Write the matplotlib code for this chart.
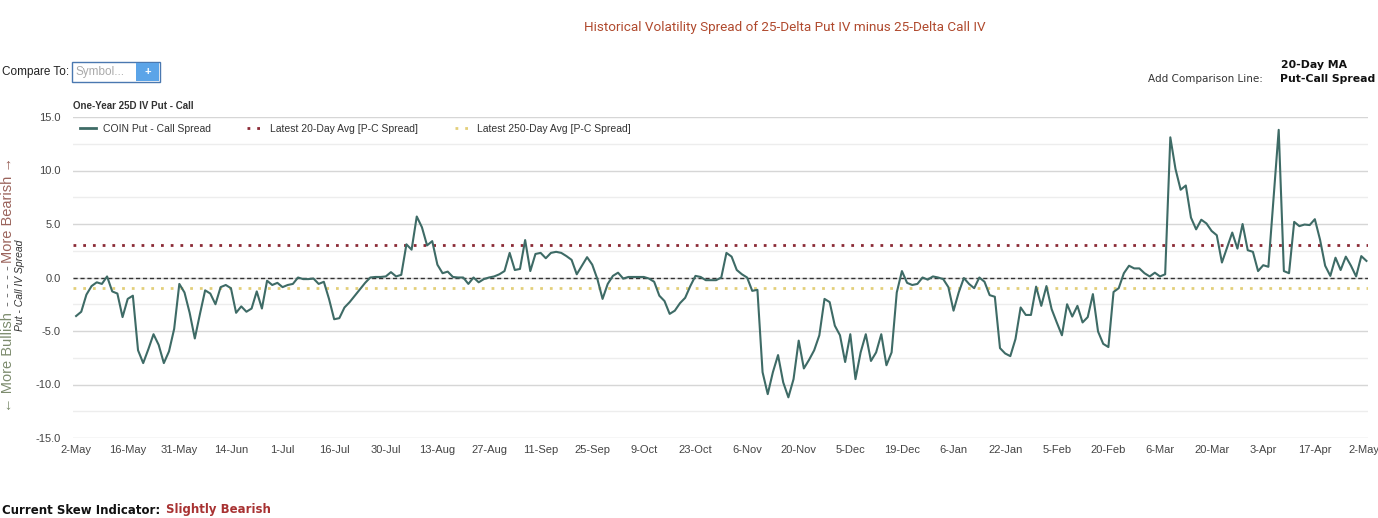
import numpy as np
import matplotlib.pyplot as plt
from matplotlib.patches import Rectangle
from matplotlib.lines import Line2D
from matplotlib.transforms import ScaledTranslation

# put - call spread, one value per trading day (2-May .. 2-May)
spread_may_aug = [-3.6, -3.2, -1.6, -0.8, -0.45, -0.6, 0.1, -1.3, -1.5, -3.7,
                  -2.0, -1.7, -6.8, -8.0, -6.7, -5.3, -6.3, -8.0, -6.9, -4.8,
                  -0.6, -1.4, -3.3, -5.7, -3.4, -1.2, -1.5, -2.5, -0.9, -0.7,
                  -1.0, -3.3, -2.7, -3.2, -2.9, -1.3, -2.9, -0.3, -0.7, -0.5,
                  -0.9, -0.7, -0.6, 0.0, -0.15, -0.15, -0.1, -0.6, -0.4, -2.0,
                  -3.9, -3.8, -2.8, -2.3, -1.7, -1.1, -0.5, 0.0, 0.05, 0.05,
                  0.1, 0.5, 0.1, 0.25, 3.1, 2.6, 5.7, 4.7, 3.0, 3.4,
                  1.2, 0.4, 0.55, 0.05, 0.0]
spread_aug_sep = [0.0, -0.6, 0.0, -0.45, -0.15, 0.0, 0.1, 0.3, 0.6, 2.3,
                  0.7, 0.8, 3.5, 0.6, 2.2, 2.3, 1.8, 2.3, 2.4, 2.3,
                  2.0, 1.65, 0.3, 1.1, 1.9, 1.2, -0.15]
spread_oct_dec = [-2.0, -0.6, 0.15, 0.45, -0.1, 0.05, 0.05, 0.05, 0.05, -0.1,
                  -0.4, -1.7, -2.2, -3.4, -3.1, -2.4, -1.9, -0.8, 0.15, 0.05,
                  -0.25, -0.25, -0.25, 0.0, 2.3, 1.95, 0.7, 0.3, 0.0, -1.25,
                  -1.15, -8.85, -10.9, -8.85, -7.25, -9.8, -11.2, -9.5, -5.9, -8.5,
                  -7.7, -6.8, -5.4, -2.0, -2.3, -4.5, -5.4, -7.9, -5.3, -9.5,
                  -7.0, -5.3, -7.8, -7.0, -5.3, -8.2, -7.0]
spread_dec_feb = [-1.4, 0.6, -0.5, -0.7, -0.6, 0.0, -0.2, 0.1, 0.0, -0.15,
                  -0.9, -3.1, -1.4, -0.05, -0.6, -1.0, 0.0, -0.4, -1.65, -1.8,
                  -6.6, -7.1, -7.35, -5.75, -2.8, -3.5, -3.5, -0.85, -2.65, -0.8,
                  -2.95, -4.2, -5.4, -2.5, -3.65, -2.65, -4.2, -3.7, -1.55, -5.05,
                  -6.2, -6.5, -1.35, -1.0]
spread_feb_may = [0.4, 1.1, 0.85, 0.85, 0.4, 0.1, 0.45, 0.1, 0.3, 13.1,
                  10.15, 8.2, 8.6, 5.6, 4.5, 5.4, 5.05, 4.35, 3.95, 1.4,
                  2.8, 4.2, 2.7, 5.0, 2.55, 2.4, 0.6, 1.15, 1.0, 7.4,
                  13.8, 0.6, 0.4, 5.2, 4.8, 4.95, 4.9, 5.45, 3.55, 1.1,
                  0.15, 1.85, 0.7, 1.95, 1.1, 0.1, 2.0, 1.55]

avg20 = 3.05
avg250 = -0.95

tick_labels = ['2-May', '16-May', '31-May', '14-Jun', '1-Jul', '16-Jul', '30-Jul',
               '13-Aug', '27-Aug', '11-Sep', '25-Sep', '9-Oct', '23-Oct', '6-Nov',
               '20-Nov', '5-Dec', '19-Dec', '6-Jan', '22-Jan', '5-Feb', '20-Feb',
               '6-Mar', '20-Mar', '3-Apr', '17-Apr', '2-May']

spread = np.array(spread_may_aug + spread_aug_sep + spread_oct_dec
                  + spread_dec_feb + spread_feb_may)
days = np.arange(len(spread))

W, H = 1378, 518
def px(x, y):
    return x / W, 1 - y / H

plt.rcParams['font.family'] = ['Liberation Sans', 'DejaVu Sans']

fig = plt.figure(figsize=(W / 100, H / 100), dpi=100)
ax = fig.add_axes([73 / W, 1 - 438 / H, (1368 - 73) / W, (438 - 117) / H])

# grid: every 2.5, darker on the 5s
for g in np.arange(-15, 15.1, 2.5):
    c = '#d6d6d6' if g % 5 == 0 else '#ededed'
    ax.axhline(g, color=c, lw=1, zorder=0)

ax.axhline(0, color='#333333', lw=1, ls=(0, (3, 2)), zorder=1)
ax.axhline(avg20, color='#8b2a36', lw=2, ls=(0, (1, 2.5)), zorder=2)
ax.axhline(avg250, color='#e3cf7a', lw=2, ls=(0, (1, 2.5)), zorder=2)
ax.plot(days, spread, color='#3e6b66', lw=1.5, zorder=3)

ax.set_xlim(-0.6, 250.3)
ax.set_ylim(-15, 15)
ax.set_yticks(np.arange(-15, 16, 5))
ax.set_yticklabels(['%.1f' % v for v in np.arange(-15, 16, 5)])
ax.set_xticks(np.arange(0, 251, 10))
ax.set_xticklabels(tick_labels)
ax.tick_params(length=0, labelsize=8, colors='#444444')
ax.tick_params(axis='y', pad=9)
ax.tick_params(axis='x', pad=5)
for s in ax.spines.values():
    s.set_visible(False)
# last label sits against the right edge
last = ax.get_xticklabels()[-1]
last.set_transform(last.get_transform() + ScaledTranslation(-0.03, 0, fig.dpi_scale_trans))

handles = [Line2D([], [], color='#3e6b66', lw=2),
           Line2D([], [], color='#8b2a36', lw=2, ls=(0, (1, 2.5))),
           Line2D([], [], color='#e3cf7a', lw=2, ls=(0, (1, 2.5)))]
ax.legend(handles, ['COIN Put - Call Spread', 'Latest 20-Day Avg [P-C Spread]',
                    'Latest 250-Day Avg [P-C Spread]'],
          loc='upper left', bbox_to_anchor=(0.0, 1.0), ncol=3, frameon=False,
          fontsize=7.5, handlelength=1.6, handletextpad=0.6, columnspacing=3.5,
          borderaxespad=0.25, labelcolor='#333333')

# header texts
fig.text(*px(785, 28), 'Historical Volatility Spread of 25-Delta Put IV minus 25-Delta Call IV',
         ha='center', va='center', fontsize=9.7, color='#b04a2e', family='Roboto')
fig.text(*px(2, 72), 'Compare To:', ha='left', va='center', fontsize=8.5,
         color='#222222')
fig.add_artist(Rectangle(px(72, 82), 88 / W, 20 / H, transform=fig.transFigure,
                         facecolor='white', edgecolor='#4a78b0', lw=1))
fig.add_artist(Rectangle(px(136, 81), 23 / W, 18 / H, transform=fig.transFigure,
                         facecolor='#5ba4e8', edgecolor='none'))
fig.text(*px(76, 72), 'Symbol...', ha='left', va='center', fontsize=8.5, color='#aaaaaa')
fig.text(*px(147.5, 72), '+', ha='center', va='center', fontsize=8, color='white',
         weight='bold')

fig.text(*px(1281, 65), '20-Day MA', ha='left', va='center', fontsize=7.8,
         weight='bold', family='DejaVu Sans', color='#111111')
fig.text(*px(1280, 79), 'Put-Call Spread', ha='left', va='center', fontsize=7.8,
         weight='bold', family='DejaVu Sans', color='#111111')
fig.text(*px(1263, 79), 'Add Comparison Line:', ha='right', va='center', fontsize=7.5,
         family='DejaVu Sans', color='#333333')

fig.text(*px(73, 106), 'One-Year 25D IV Put - Call', ha='left', va='center',
         fontsize=7, color='#333333', weight='bold')

# y-axis side labels
fig.text(*px(8, 210), 'More Bearish \u2192', rotation=90, ha='center', va='center',
         fontsize=10.5, color='#9b645c')
fig.text(*px(8, 286), '- - - - -', rotation=90, ha='center', va='center',
         fontsize=10.5, color='#777777')
fig.text(*px(8, 362), '\u2190 More Bullish', rotation=90, ha='center', va='center',
         fontsize=10.5, color='#7d8c6e')
fig.text(*px(20, 285), 'Put - Call IV Spread', rotation=90, ha='center', va='center',
         fontsize=7.5, style='italic', color='#333333')

# footer
fig.text(*px(2, 510), 'Current Skew Indicator:', ha='left', va='center', fontsize=8.5,
         weight='bold', family='DejaVu Sans', color='#111111')
fig.text(*px(166, 510), 'Slightly Bearish', ha='left', va='center', fontsize=8.5,
         weight='bold', family='DejaVu Sans', color='#a83232')

fig.savefig('out.png', dpi=100)
